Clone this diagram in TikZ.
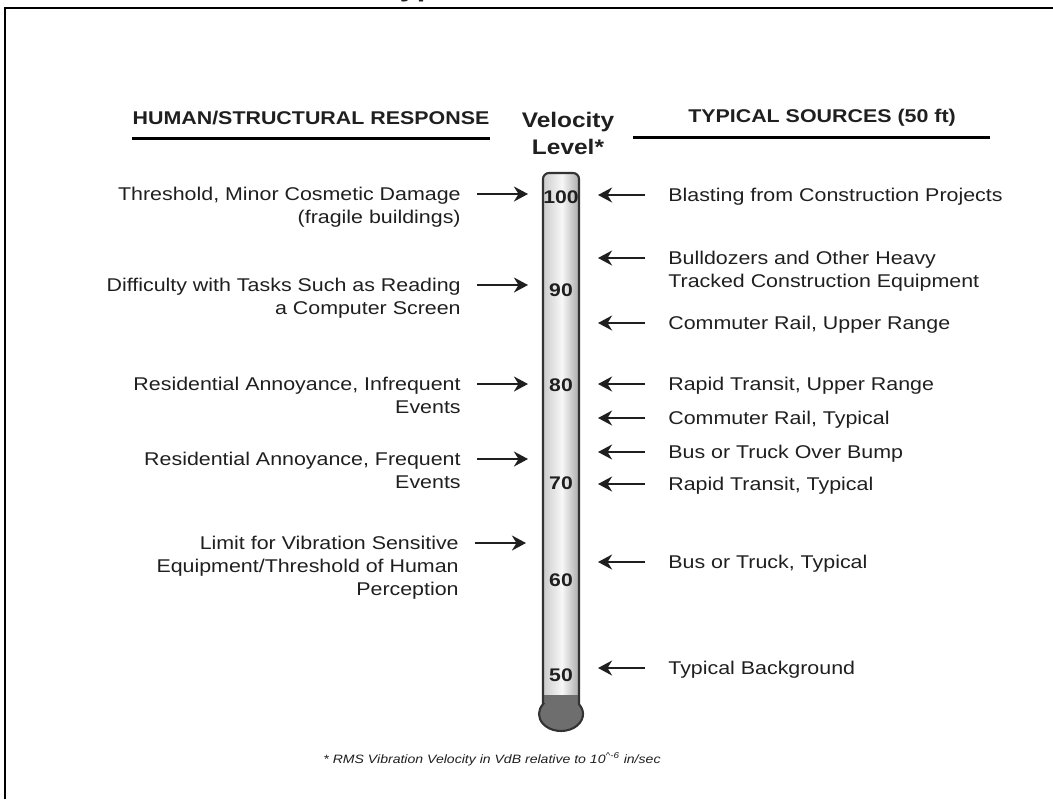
\documentclass[tikz,border=0pt]{standalone}
\usepackage{fontspec}
\setmainfont{Liberation Sans}[FakeStretch=1.16]
\usetikzlibrary{arrows.meta}

\begin{document}
\begin{tikzpicture}[x=0.02cm,y=0.02cm]
   \tikzstyle{every node}=[inner sep=0pt, text=black!88]
   \tikzstyle{resp}=[anchor=north east, align=right, font=\fontsize{10.5}{13}\selectfont]
   \tikzstyle{src}=[anchor=north west, align=left, font=\fontsize{10.5}{13}\selectfont]
   \tikzstyle{head}=[font=\fontsize{10.5}{13}\selectfont\bfseries]
   \tikzstyle{vdb}=[font=\fontsize{10.4}{12}\selectfont\bfseries]
   \tikzstyle{ptr}=[line width=1.3pt, black!88, -{Stealth[length=8pt,width=8.5pt,inset=2.6pt]}]
   \def\tubepath{(543,-704.2) -- (543,-179) arc[start angle=180, end angle=90, radius=6] -- (573,-173) arc[start angle=90, end angle=0, radius=6] -- (579,-704.2) arc[start angle=35.1, end angle=-215.1, x radius=22, y radius=17] -- cycle}

\useasboundingbox (0,0) rectangle (1053,-799);
\draw[line width=1.4pt] (5,-799) -- (5,-8) -- (1053,-8);
\node[anchor=base west, font=\fontsize{15}{18}\selectfont\bfseries] (title) at (383,4) {Typical};

\node[head] (hresp) at (311,-118) {HUMAN/STRUCTURAL RESPONSE};
\node[head] (hsrc) at (822,-118) {TYPICAL SOURCES (50 ft)};
\node[head, font=\fontsize{12}{15.3}\selectfont\bfseries, align=center, anchor=north] (vel) at (568,-112) {Velocity\\Level*};
\draw[line width=1.7pt] (132,-138) -- (490,-138);
\draw[line width=1.7pt] (633,-137) -- (990,-137);

% thermometer
\shade[left color=black!25, right color=black!45, middle color=black!3] \tubepath;
\fill[black!57] (543,-695) -- (543,-704.2) arc[start angle=144.9, end angle=395.1, x radius=22, y radius=17] -- (579,-695) -- cycle;
\draw[black!80, line width=1.2pt] \tubepath;
\foreach \v/\y in {100/197,90/290,80/385,70/483,60/580,50/675}
   \node[vdb] (v\v) at (561,-\y) {\v};

% responses
\node[resp] (thresh) at (461,-187) {Threshold, Minor Cosmetic Damage\\(fragile buildings)};
\node[resp] (task) at (461,-278) {Difficulty with Tasks Such as Reading\\a Computer Screen};
\node[resp] (annoyi) at (461,-377) {Residential Annoyance, Infrequent\\Events};
\node[resp] (annoyf) at (461,-452) {Residential Annoyance, Frequent\\Events};
\node[resp] (limit) at (459,-536) {Limit for Vibration Sensitive\\Equipment/Threshold of Human\\Perception};
\foreach \n in {thresh,task,annoyi,annoyf,limit}
   \draw[ptr] (\n.north east) ++(16,-7) -- ++(51,0);

% sources
\node[src] (blast) at (668,-188) {Blasting from Construction Projects};
\node[src] (dozer) at (668,-251) {Bulldozers and Other Heavy\\Tracked Construction Equipment};
\node[src] (crup) at (668,-316) {Commuter Rail, Upper Range};
\node[src] (rtup) at (668,-377) {Rapid Transit, Upper Range};
\node[src] (crtyp) at (668,-411) {Commuter Rail, Typical};
\node[src] (bump) at (668,-445) {Bus or Truck Over Bump};
\node[src] (rttyp) at (668,-477) {Rapid Transit, Typical};
\node[src] (bus) at (668,-555) {Bus or Truck, Typical};
\node[src] (bg) at (668,-661) {Typical Background};
\foreach \n in {blast,dozer,crup,rtup,crtyp,bump,rttyp,bus,bg}
   \draw[ptr] (\n.north west) ++(-23,-7) -- ++(-47,0);

\node[font=\fontsize{6.9}{8}\selectfont\itshape] (note) at (492,-759) {* RMS Vibration Velocity in VdB relative to 10\textsuperscript{\textasciicircum-6} in/sec};
\end{tikzpicture}
\end{document}
